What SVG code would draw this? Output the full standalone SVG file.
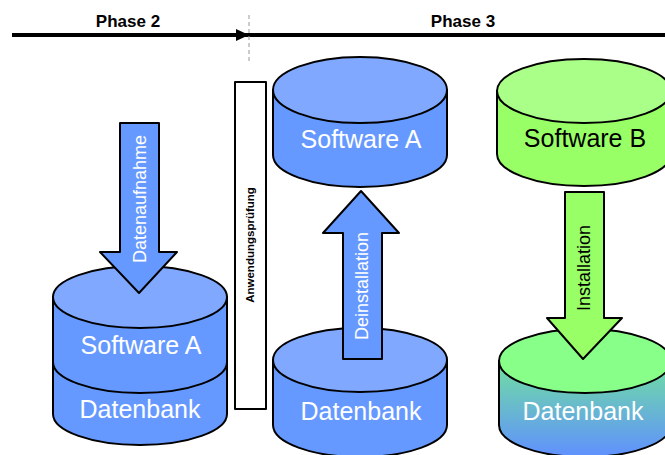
<svg xmlns="http://www.w3.org/2000/svg" width="665" height="455" viewBox="0 0 665 455">
<defs>
<linearGradient id="gb" x1="0" y1="0" x2="0" y2="1">
<stop offset="0" stop-color="#70e0a0"/>
<stop offset="1" stop-color="#6090ff"/>
</linearGradient>
<style>
.ol{stroke:#000;stroke-width:2;stroke-linejoin:round}
.bside{fill:#6699ff}
.btop{fill:#80a8ff}
.gside{fill:#99ff66}
.gtop{fill:#aaff88}
.lbl{font-family:"Liberation Sans",Arial,sans-serif;font-size:25px;text-anchor:middle}
.rot{font-family:"Liberation Sans",Arial,sans-serif;font-size:18px;text-anchor:middle}
.ph{font-family:"Liberation Sans",Arial,sans-serif;font-size:17px;font-weight:bold;text-anchor:middle}
</style>
</defs>
<rect width="665" height="455" fill="#fff"/>

<g id="timeline">
<line x1="12" y1="35" x2="665" y2="35" stroke="#000" stroke-width="4"/>
<polygon points="236,29 249,35 236,41" fill="#000"/>
<line x1="249" y1="15" x2="249" y2="62" stroke="#999" stroke-width="1" stroke-dasharray="4,3"/>
<text class="ph" x="128" y="27">Phase 2</text>
<text class="ph" x="463" y="27">Phase 3</text>
</g>

<g id="db-left">
<path class="ol bside" d="M53,297 L53,414 A87,31 0 0 0 227,414 L227,297 Z"/>
<path class="ol" fill="none" d="M53,362 A87,31 0 0 0 227,362"/>
<ellipse class="ol btop" cx="140" cy="297" rx="87" ry="31"/>
<text class="lbl" x="141" y="354" fill="#fff">Software A</text>
<text class="lbl" x="140" y="418" fill="#fff">Datenbank</text>
</g>

<g id="check">
<rect class="ol" x="235" y="82" width="31" height="327" fill="#fff" stroke-width="1.5"/>
<text transform="translate(254,245) rotate(-90)" font-family="Liberation Sans,Arial,sans-serif" font-size="11.5" font-weight="bold" text-anchor="middle">Anwendungsprüfung</text>
</g>

<g id="sw-a">
<path class="ol bside" d="M273,90 L273,155 A87,32 0 0 0 447,155 L447,90 Z"/>
<ellipse class="ol btop" cx="360" cy="90" rx="87" ry="33"/>
<text class="lbl" x="361" y="148" fill="#fff">Software A</text>
</g>

<g id="db-mid">
<path class="ol bside" d="M273,360 L273,425 A87,32 0 0 0 447,425 L447,360 Z"/>
<ellipse class="ol btop" cx="360" cy="360" rx="87" ry="32"/>
<text class="lbl" x="361" y="420" fill="#fff">Datenbank</text>
</g>

<g id="sw-b">
<path class="ol gside" d="M497,91 L497,154 A87,32 0 0 0 671,154 L671,91 Z"/>
<ellipse class="ol gtop" cx="584" cy="91" rx="87" ry="32"/>
<text class="lbl" x="585" y="147" fill="#000">Software B</text>
</g>

<g id="db-right">
<path class="ol" fill="url(#gb)" d="M499,361 L499,425 A86,32 0 0 0 671,425 L671,361 Z"/>
<ellipse class="ol" fill="#88ff88" cx="585" cy="361" rx="86" ry="32"/>
<text class="lbl" x="583" y="420" fill="#fff">Datenbank</text>
</g>

<g id="connectors">
<g id="arrow-datenaufnahme">
<polygon class="ol" fill="#6699ff" stroke-width="1.5" points="120,123 159,123 159,252 177,252 139,293 100,252 120,252"/>
<text class="rot" transform="translate(146,199) rotate(-90)" fill="#fff">Datenaufnahme</text>
</g>
<g id="arrow-deinstallation">
<polygon class="ol" fill="#6699ff" stroke-width="1.5" points="343,359 382,359 382,233 399,233 361,191 323,233 343,233"/>
<text class="rot" transform="translate(368,286) rotate(-90)" fill="#fff">Deinstallation</text>
</g>
<g id="arrow-installation">
<polygon class="ol" fill="#99ff66" stroke-width="1.5" points="565,192 604,192 604,318 622,318 583,359 547,318 565,318"/>
<text class="rot" transform="translate(590,268) rotate(-90)" fill="#000">Installation</text>
</g>
</g>
</svg>
